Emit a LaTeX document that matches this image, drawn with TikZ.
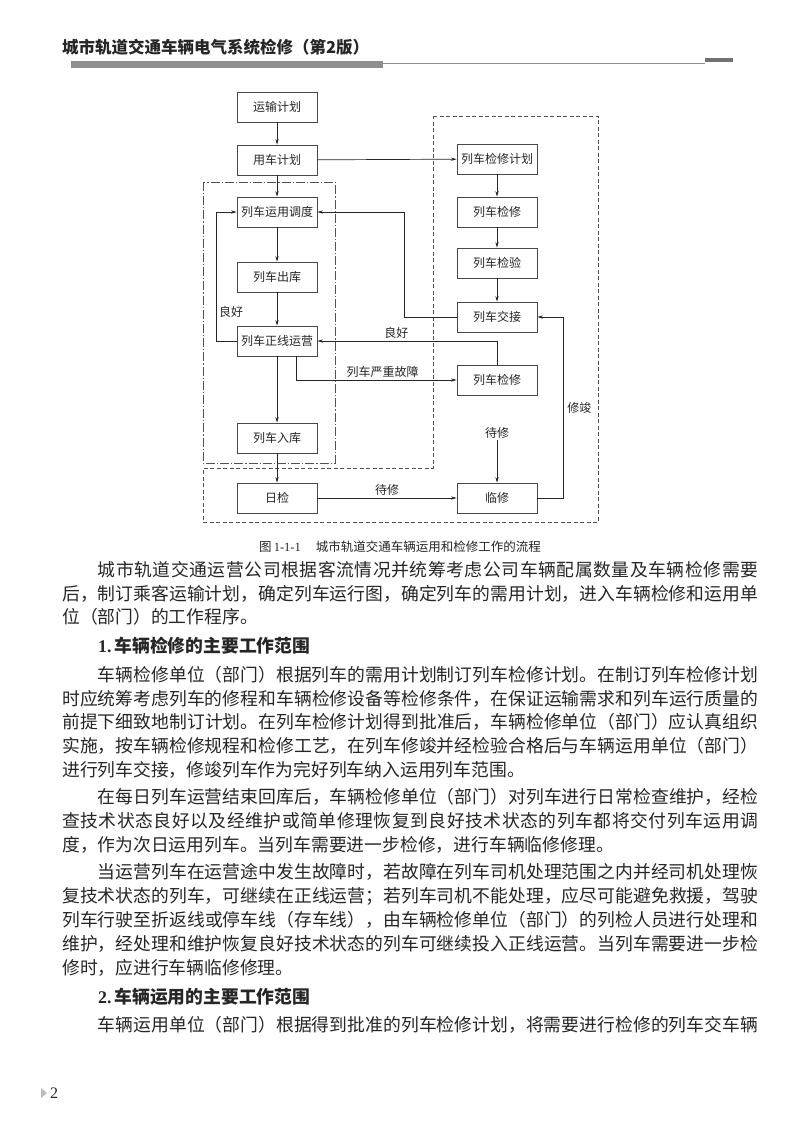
\documentclass[tikz,border=0pt]{standalone}
\usepackage{fontspec}
\setmainfont{Noto Sans CJK SC}
\newfontfamily\numfont{Liberation Serif}
\usetikzlibrary{arrows.meta}
\definecolor{ink}{HTML}{262626}
\definecolor{rulegray}{HTML}{8E8E8E}
\XeTeXlinebreaklocale "zh"
\XeTeXlinebreakskip=0pt plus 3pt minus 1pt

% one justified text line of the page body
\newcommand{\fulline}[3]{%
  \node[bodytxt] (#1) at (62,#2)
    {\parbox{696pt}{\parfillskip=0pt\tolerance=10000\relax #3}};}
\newcommand{\lastline}[3]{\node[bodytxt] (#1) at (62,#2) {#3};}

\begin{document}
\begin{tikzpicture}[x=1pt,y=-1pt,text=ink,
  font=\fontsize{12pt}{14pt}\selectfont,
  flowbox/.style={draw=ink!85,fill=white,line width=0.8pt,
    minimum width=80pt,minimum height=30pt,inner sep=0pt},
  flowarr/.style={draw=ink,line width=0.7pt,
    -{Stealth[length=5.5pt,width=3.2pt]}},
  flowlbl/.style={font=\fontsize{12pt}{14pt}\selectfont,inner sep=1.5pt},
  bodytxt/.style={font=\fontsize{17.8pt}{24pt}\selectfont,
    inner sep=0pt,anchor=west}]
  \useasboundingbox[fill=white] (0,0) rectangle (790,1133);

  % running head
  \node[anchor=west,inner sep=0pt,
    font=\fontsize{16.5pt}{18pt}\selectfont\bfseries] (runhead)
    at (62,47) {城市轨道交通车辆电气系统检修（第2版）};
  \fill[rulegray] (71,61) rectangle (383,68);
  \draw[rulegray,line width=0.6pt] (383,63) -- (705,63);
  \fill[rulegray!80!black] (705,58) rectangle (733,62);

  % regions: operation (dash-dot) and maintenance (dashed)
  \draw[ink!80,line width=0.8pt,
    dash pattern=on 9pt off 2pt on 1.2pt off 2pt]
    (203,182) rectangle (335,463);
  \draw[ink!80,line width=0.8pt,dash pattern=on 4pt off 2.5pt]
    (433,116) -- (598,116) -- (598,522) -- (203,522)
    -- (203,468) -- (433,468) -- cycle;

  % left column
  \node[flowbox] (ysjh) at (277,107) {运输计划};
  \node[flowbox] (ycjh) at (277,160) {用车计划};
  \node[flowbox] (yydd) at (277,212) {列车运用调度};
  \node[flowbox] (chuku) at (277,277) {列车出库};
  \node[flowbox] (zxyy) at (277,341) {列车正线运营};
  \node[flowbox] (ruku) at (277,438) {列车入库};
  \node[flowbox] (rijian) at (277,498) {日检};
  % right column
  \node[flowbox] (jxjh) at (497,159) {列车检修计划};
  \node[flowbox] (jxa) at (497,212) {列车检修};
  \node[flowbox] (jyan) at (497,263) {列车检验};
  \node[flowbox] (jjie) at (497,317) {列车交接};
  \node[flowbox] (jxb) at (497,380) {列车检修};
  \node[flowbox] (linxiu) at (497,498) {临修};
  \node[flowlbl] (daixiu) at (497,433) {待修};
  \node[flowlbl] (lianghao) at (231,312) {良好};

  \draw[flowarr] (ysjh) -- (ycjh);
  \draw[flowarr] (ycjh) -- (yydd);
  \draw[flowarr] (ycjh) -- (jxjh);
  \draw[flowarr] (jxjh) -- (jxa);
  \draw[flowarr] (jxa) -- (jyan);
  \draw[flowarr] (jyan) -- (jjie);
  \draw[flowarr] (yydd) -- (chuku);
  \draw[flowarr] (chuku) -- (zxyy);
  \draw[flowarr] (zxyy) -- (ruku);
  \draw[flowarr] (ruku) -- (rijian);
  \draw[flowarr] (jjie.west) -- ++(-52,0) |- (yydd.east);
  \draw[flowarr] (zxyy.west) -- ++(-20,0) |- (yydd.west);
  \draw[flowarr] (jxb.north) |- (zxyy.east)
    node[flowlbl,pos=0.78,above=1pt] {良好};
  \draw[flowarr] ([xshift=19pt]zxyy.south) |- (jxb.west)
    node[flowlbl,pos=0.77,above=1pt] {列车严重故障};
  \draw[flowarr] (rijian) -- (linxiu)
    node[flowlbl,midway,above=1pt] {待修};
  \draw[flowarr] (daixiu) -- (linxiu);
  \draw[flowarr] (linxiu.east) -- ++(26,0) |- (jjie.east)
    node[flowlbl,pos=0.25,right=2pt] {修竣};

  \node[font=\fontsize{12.5pt}{14pt}\selectfont] (caption) at (400,547)
    {图\,{\numfont 1-1-1}\hspace{1.2em}城市轨道交通车辆运用和检修工作的流程};

  % page body
  \fulline{la}{570}{\hspace*{2em}城市轨道交通运营公司根据客流情况并统筹考虑公司车辆配属数量及车辆检修需要}
  \fulline{lb}{594}{后，制订乘客运输计划，确定列车运行图，确定列车的需用计划，进入车辆检修和运用单}
  \lastline{lc}{617}{位（部门）的工作程序。}
  \node[bodytxt,font=\fontsize{17.8pt}{24pt}\selectfont\bfseries] (secone)
    at (98,646) {{\numfont\bfseries 1.}\,车辆检修的主要工作范围};
  \fulline{ld}{675}{\hspace*{2em}车辆检修单位（部门）根据列车的需用计划制订列车检修计划。在制订列车检修计划}
  \fulline{le}{699}{时应统筹考虑列车的修程和车辆检修设备等检修条件，在保证运输需求和列车运行质量的}
  \fulline{lf}{722}{前提下细致地制订计划。在列车检修计划得到批准后，车辆检修单位（部门）应认真组织}
  \fulline{lg}{746}{实施，按车辆检修规程和检修工艺，在列车修竣并经检验合格后与车辆运用单位（部门）}
  \lastline{lh}{770}{进行列车交接，修竣列车作为完好列车纳入运用列车范围。}
  \fulline{li}{797}{\hspace*{2em}在每日列车运营结束回库后，车辆检修单位（部门）对列车进行日常检查维护，经检}
  \fulline{lj}{821}{查技术状态良好以及经维护或简单修理恢复到良好技术状态的列车都将交付列车运用调}
  \lastline{lk}{845}{度，作为次日运用列车。当列车需要进一步检修，进行车辆临修修理。}
  \fulline{ll}{872}{\hspace*{2em}当运营列车在运营途中发生故障时，若故障在列车司机处理范围之内并经司机处理恢}
  \fulline{lm}{896}{复技术状态的列车，可继续在正线运营；若列车司机不能处理，应尽可能避免救援，驾驶}
  \fulline{ln}{920}{列车行驶至折返线或停车线（存车线），由车辆检修单位（部门）的列检人员进行处理和}
  \fulline{lo}{944}{维护，经处理和维护恢复良好技术状态的列车可继续投入正线运营。当列车需要进一步检}
  \lastline{lp}{968}{修时，应进行车辆临修修理。}
  \node[bodytxt,font=\fontsize{17.8pt}{24pt}\selectfont\bfseries] (sectwo)
    at (98,997) {{\numfont\bfseries 2.}\,车辆运用的主要工作范围};
  \fulline{lq}{1025}{\hspace*{2em}车辆运用单位（部门）根据得到批准的列车检修计划，将需要进行检修的列车交车辆}

  % folio
  \fill[rulegray!60] (41,1088) -- (47,1093) -- (41,1098) -- cycle;
  \node[anchor=west,inner sep=0pt,font=\numfont\fontsize{16pt}{18pt}\selectfont]
    (folio) at (50,1093) {2};
\end{tikzpicture}
\end{document}
